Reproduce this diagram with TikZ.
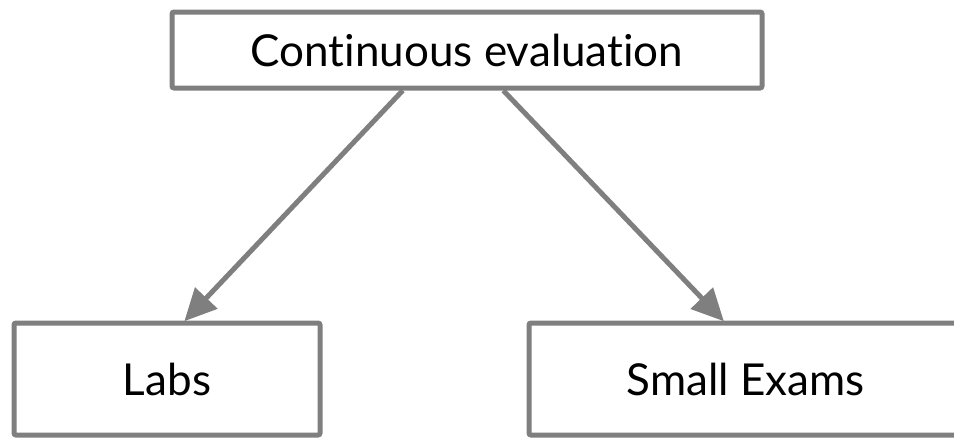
\documentclass[tikz,border=0pt]{standalone}
\usepackage{fontspec}
\setmainfont[Ligatures={NoCommon,NoContextual}]{Lato}
\usetikzlibrary{arrows.meta,calc}
\definecolor{edgegray}{HTML}{7F7F7F}
\tikzset{
  box/.style={draw=edgegray, line width=5pt, rounded corners=2pt, fill=white,
              inner sep=0pt, font=\fontsize{44}{50}\selectfont, text=black},
  link/.style={draw=edgegray, line width=5pt,
               -{Triangle[length=32pt,width=30pt]}, shorten >=-1pt}
}
\begin{document}
\begin{tikzpicture}[x=1pt,y=-1pt]
  \useasboundingbox (0,0) rectangle (954,439);
  \begin{scope}
    \clip (0,0) rectangle (954,439);
    \node[box, minimum width=590pt, minimum height=76pt] (top) at (467,50) {Continuous evaluation};
    \node[box, minimum width=306pt, minimum height=112pt] (labs) at (167,379) {Labs};
    \node[box, minimum width=433pt, minimum height=112pt] (exams) at (745.5,379) {Small Exams};
    \draw[link] ($(top.south west)!0.392!(top.south east)$) -- ($(labs.north west)!0.558!(labs.north east)$);
    \draw[link] ($(top.south west)!0.561!(top.south east)$) -- ($(exams.north west)!0.449!(exams.north east)$);
  \end{scope}
\end{tikzpicture}
\end{document}
